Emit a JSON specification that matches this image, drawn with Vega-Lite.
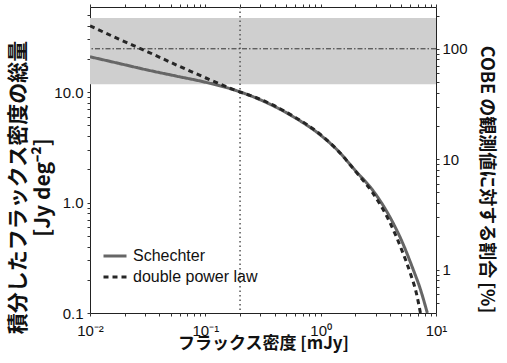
{
  "$schema": "https://vega.github.io/schema/vega-lite/v6.json",
  "width": 346,
  "height": 306,
  "autosize": "none",
  "padding": {"left": 90, "top": 7, "right": 71, "bottom": 50},
  "background": "white",
  "config": {
    "view": {"stroke": "#222222", "strokeWidth": 1},
    "axis": {
      "grid": false,
      "domain": false,
      "ticks": true,
      "tickSize": 3,
      "labelFont": "Liberation Sans",
      "labelFontSize": 15,
      "labelColor": "#111111",
      "tickColor": "#333333",
      "tickWidth": 1,
      "labelOverlap": false,
      "labelBound": false,
      "labelFlush": false,
      "titleFont": "Noto Sans CJK JP",
      "titleFontWeight": "bold",
      "titleColor": "#111111"
    }
  },
  "datasets": {
    "band": [{"lo": 11.8, "hi": 47}],
    "vline": [{"x": 0.2}],
    "cobe": [{"pct": 100}],
    "curves": [
      {"model": "Schechter", "x": 0.01, "y": 20.9},
      {"model": "Schechter", "x": 0.0178, "y": 18.2},
      {"model": "Schechter", "x": 0.0316, "y": 15.85},
      {"model": "Schechter", "x": 0.0562, "y": 13.96},
      {"model": "Schechter", "x": 0.1, "y": 12.3},
      {"model": "Schechter", "x": 0.178, "y": 10.47},
      {"model": "Schechter", "x": 0.316, "y": 8.32},
      {"model": "Schechter", "x": 0.562, "y": 6.1},
      {"model": "Schechter", "x": 1.0, "y": 4.07},
      {"model": "Schechter", "x": 1.413, "y": 2.95},
      {"model": "Schechter", "x": 1.995, "y": 1.95},
      {"model": "Schechter", "x": 2.818, "y": 1.3},
      {"model": "Schechter", "x": 3.98, "y": 0.741},
      {"model": "Schechter", "x": 5.01, "y": 0.457},
      {"model": "Schechter", "x": 6.31, "y": 0.251},
      {"model": "Schechter", "x": 7.24, "y": 0.17},
      {"model": "Schechter", "x": 8.41, "y": 0.1},
      {"model": "double power law", "x": 0.01, "y": 39.8},
      {"model": "double power law", "x": 0.0178, "y": 30.2},
      {"model": "double power law", "x": 0.0316, "y": 23.2},
      {"model": "double power law", "x": 0.0562, "y": 17.6},
      {"model": "double power law", "x": 0.1, "y": 13.5},
      {"model": "double power law", "x": 0.178, "y": 10.5},
      {"model": "double power law", "x": 0.316, "y": 8.41},
      {"model": "double power law", "x": 0.562, "y": 6.16},
      {"model": "double power law", "x": 1.0, "y": 4.12},
      {"model": "double power law", "x": 1.413, "y": 2.95},
      {"model": "double power law", "x": 1.995, "y": 1.93},
      {"model": "double power law", "x": 2.818, "y": 1.23},
      {"model": "double power law", "x": 3.98, "y": 0.661},
      {"model": "double power law", "x": 5.01, "y": 0.38},
      {"model": "double power law", "x": 6.03, "y": 0.224},
      {"model": "double power law", "x": 6.76, "y": 0.151},
      {"model": "double power law", "x": 7.33, "y": 0.1}
    ]
  },
  "layer": [
    {
      "layer": [
        {
          "data": {"name": "band"},
          "mark": {"type": "rect", "color": "#cfcfcf"},
          "encoding": {
            "y": {
              "field": "lo", "type": "quantitative",
              "scale": {"type": "log", "domain": [0.1, 59]},
              "axis": {
                "orient": "left",
                "values": [0.1,0.2,0.3,0.4,0.5,0.6,0.7,0.8,0.9,1,2,3,4,5,6,7,8,9,10,20,30,40,50],
                "labelExpr": "datum.value==0.1?'0.1':datum.value==1?'1.0':datum.value==10?'10.0':''",
                "labelPadding": 4,
                "title": ["積分したフラックス密度の総量", "[Jy deg⁻²]"],
                "titleFontSize": 21,
                "titleLineHeight": 25,
                "titlePadding": 0,
                "titleY": 180
              }
            },
            "y2": {"field": "hi"}
          }
        },
        {
          "data": {"name": "vline"},
          "mark": {"type": "rule", "color": "#555555", "strokeWidth": 1.5, "strokeDash": [1.5, 3]},
          "encoding": {
            "x": {
              "field": "x", "type": "quantitative",
              "scale": {"type": "log", "domain": [0.01, 10]},
              "axis": {
                "orient": "top",
                "values": [0.01,0.02,0.03,0.04,0.05,0.06,0.07,0.08,0.09,0.1,0.2,0.3,0.4,0.5,0.6,0.7,0.8,0.9,1,2,3,4,5,6,7,8,9,10],
                "labels": false,
                "title": null
              }
            }
          }
        },
        {
          "data": {"name": "curves"},
          "mark": {"type": "line", "strokeWidth": 3, "clip": true, "interpolate": "monotone"},
          "encoding": {
            "x": {
              "field": "x", "type": "quantitative",
              "scale": {"type": "log", "domain": [0.01, 10]},
              "axis": {
                "orient": "bottom",
                "values": [0.01,0.02,0.03,0.04,0.05,0.06,0.07,0.08,0.09,0.1,0.2,0.3,0.4,0.5,0.6,0.7,0.8,0.9,1,2,3,4,5,6,7,8,9,10],
                "labelExpr": "datum.value==0.01?'10⁻²':datum.value==0.1?'10⁻¹':datum.value==1?'10⁰':datum.value==10?'10¹':''",
                "labelPadding": 7,
                "title": "フラックス密度 [mJy]",
                "titleFontSize": 17,
                "titlePadding": -3
              }
            },
            "y": {
              "field": "y", "type": "quantitative",
              "scale": {"type": "log", "domain": [0.1, 59]},
              "axis": {
                "orient": "left",
                "values": [0.1,0.2,0.3,0.4,0.5,0.6,0.7,0.8,0.9,1,2,3,4,5,6,7,8,9,10,20,30,40,50],
                "labelExpr": "datum.value==0.1?'0.1':datum.value==1?'1.0':datum.value==10?'10.0':''",
                "labelPadding": 4,
                "title": ["積分したフラックス密度の総量", "[Jy deg⁻²]"],
                "titleFontSize": 21,
                "titleLineHeight": 25,
                "titlePadding": 0,
                "titleY": 180
              }
            },
            "color": {
              "field": "model", "type": "nominal",
              "scale": {"domain": ["Schechter", "double power law"], "range": ["#666666", "#262626"]},
              "legend": {
                "orient": "none",
                "legendX": 12,
                "legendY": 236,
                "title": null,
                "padding": 0,
                "symbolType": "stroke",
                "symbolSize": 529,
                "symbolStrokeWidth": 3,
                "labelFont": "Liberation Sans",
                "labelFontSize": 16,
                "labelColor": "#111111",
                "labelOffset": 5,
                "rowPadding": -6
              }
            },
            "strokeDash": {
              "field": "model", "type": "nominal",
              "scale": {"domain": ["Schechter", "double power law"], "range": [[1, 0], [5, 4]]},
              "legend": {
                "orient": "none",
                "legendX": 12,
                "legendY": 236,
                "title": null,
                "padding": 0,
                "symbolType": "stroke",
                "symbolSize": 529,
                "symbolStrokeWidth": 3,
                "labelFont": "Liberation Sans",
                "labelFontSize": 16,
                "labelColor": "#111111",
                "labelOffset": 5,
                "rowPadding": -6
              }
            }
          }
        }
      ],
      "resolve": {"axis": {"x": "independent"}}
    },
    {
      "data": {"name": "cobe"},
      "mark": {"type": "rule", "color": "#333333", "strokeWidth": 1, "strokeDash": [5, 2, 1.5, 2]},
      "encoding": {
        "y": {
          "field": "pct", "type": "quantitative",
          "scale": {"type": "log", "domain": [0.405, 239]},
          "axis": {
            "orient": "right",
            "values": [0.5,0.6,0.7,0.8,0.9,1,2,3,4,5,6,7,8,9,10,20,30,40,50,60,70,80,90,100,200],
            "labelExpr": "datum.value==1?'1':datum.value==10?'10':datum.value==100?'100':''",
            "labelPadding": 3,
            "title": "COBE の観測値に対する割合 [%]",
            "titleFontSize": 18,
            "titlePadding": 9,
            "titleY": 172
          }
        }
      }
    }
  ],
  "resolve": {"scale": {"y": "independent"}, "axis": {"y": "independent"}}
}
